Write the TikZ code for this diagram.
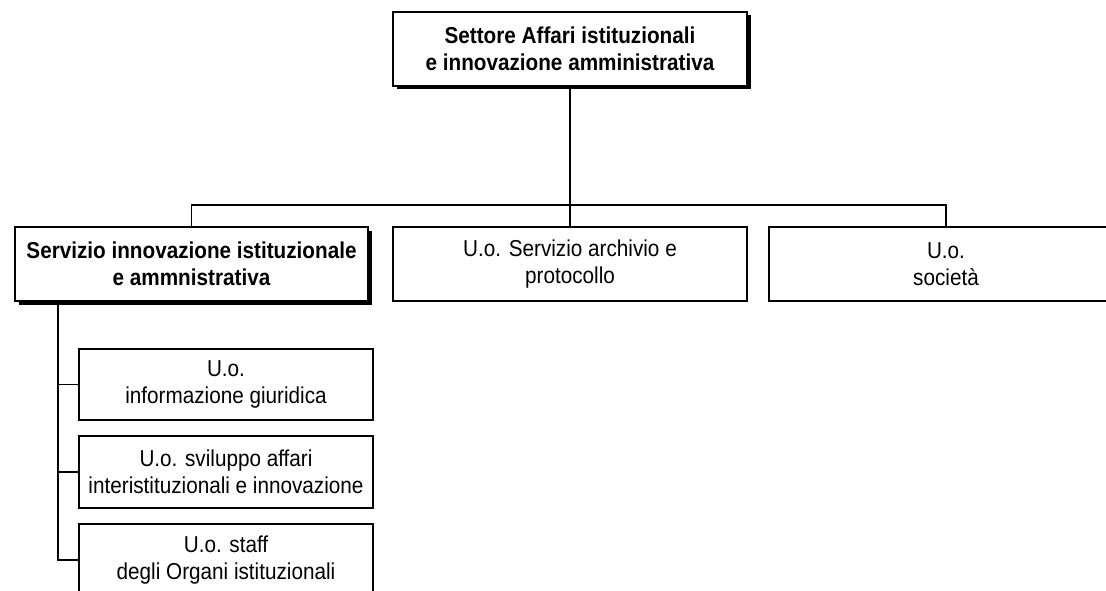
\documentclass[tikz,border=0pt]{standalone}
\usepackage{fontspec}
\setmainfont{Liberation Sans}[FakeStretch=0.9]
\usetikzlibrary{shadows}
\begin{document}
\begin{tikzpicture}[x=1pt,y=-1pt,
  box/.style={draw=black, line width=1.3pt, fill=white, align=center, inner sep=0pt,
    minimum width=354pt, minimum height=74pt, font=\fontsize{23}{27}\selectfont},
  boldbox/.style={box, line width=1.5pt, font=\fontsize{23}{27}\selectfont\bfseries,
    drop shadow={shadow xshift=3.5pt, shadow yshift=-3.5pt, fill=black, opacity=1}},
  smallbox/.style={box, minimum width=294pt, minimum height=72pt},
  conn/.style={draw=black, line width=1.3pt}]
\clip (0,0) rectangle (1106,591);
\fill[white] (0,0) rectangle (1106,591);
\node[boldbox] (top) at (570,49) {Settore Affari istituzionali\\e innovazione amministrativa};
\node[boldbox, minimum width=353pt] (serv) at (191.5,264) {Servizio innovazione istituzionale\\e ammnistrativa};
\node[box] (arch) at (570,264) {U.o. Servizio archivio e\\protocollo};
\node[box] (soc) at (946,264) {U.o.\\società};
\node[smallbox, minimum height=71pt] (b1) at (226,384.5) {U.o.\\informazione giuridica};
\node[smallbox] (b2) at (226,472) {U.o. sviluppo affari\\interistituzionali e innovazione};
\node[smallbox] (b3) at (226,560) {U.o. staff\\degli Organi istituzionali};
\coordinate (busy) at (0,205);
\coordinate (spine) at (58,301);
\draw[conn] (top.south) -- (arch.north);
\draw[conn] (serv.north) |- (busy -| soc.north) -- (soc.north);
\draw[conn] (spine) |- (b3.west);
\draw[conn] (spine |- b1.west) -- (b1.west);
\draw[conn] (spine |- b2.west) -- (b2.west);
\end{tikzpicture}
\end{document}
